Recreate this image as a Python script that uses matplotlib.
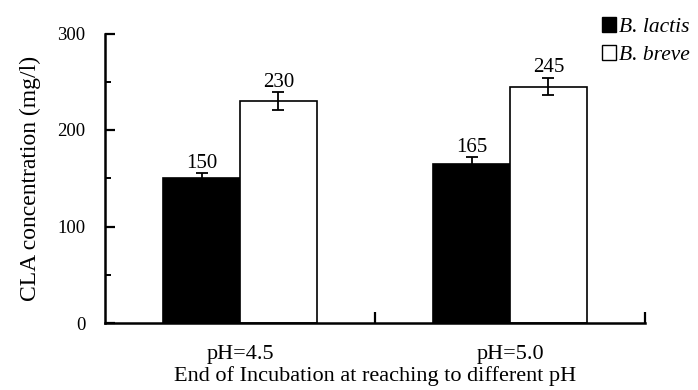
import matplotlib
matplotlib.use("Agg")
import matplotlib.pyplot as plt
import numpy as np
from matplotlib.patches import Rectangle
from matplotlib.ticker import FixedLocator, MultipleLocator

# CLA yield for the two strains at the end of incubation
categories = ["pH=4.5", "pH=5.0"]
lactis = [150, 165]
breve = [230, 245]
lactis_err = [5, 7]
breve_err = [9, 9]

plt.rcParams["font.family"] = ["Liberation Serif", "DejaVu Serif"]
plt.rcParams["font.size"] = 13.5

fig = plt.figure(figsize=(6.98, 3.90), dpi=100)
ax = fig.add_axes([105 / 698, 1 - 323 / 390, 540 / 698, 289.5 / 390])

x = np.arange(len(categories))
w = 0.285
ekw = dict(ecolor="black", elinewidth=1.3, capsize=4.3, capthick=1.3)

ax.bar(x - w / 2, lactis, w, color="black", edgecolor="black", linewidth=1.2,
       yerr=lactis_err, error_kw=ekw, label="B. lactis", zorder=2)
ax.bar(x + w / 2, breve, w, color="white", edgecolor="black", linewidth=1.2,
       yerr=breve_err, error_kw=ekw, label="B. breve", zorder=2)

for xi, v, e in zip(x - w / 2, lactis, lactis_err):
    ax.text(xi, v + e + 0.5, f"{v}", ha="center", va="bottom", fontsize=15)
for xi, v, e in zip(x + w / 2, breve, breve_err):
    ax.text(xi, v + e + 0.5, f"{v}", ha="center", va="bottom", fontsize=15)

ax.set_xlim(-0.5, len(categories) - 0.5)
ax.set_ylim(0, 300)

# category separators as inward ticks, labels sit on minor ticks
ax.xaxis.set_major_locator(FixedLocator(x + 0.5))
ax.xaxis.set_minor_locator(FixedLocator(x))
ax.set_xticklabels([], minor=False)
ax.set_xticklabels(categories, minor=True)
ax.tick_params(axis="x", which="major", direction="in", length=8, width=1.6)
ax.tick_params(axis="x", which="minor", length=0, pad=16, labelsize=16)

ax.yaxis.set_major_locator(MultipleLocator(100))
ax.yaxis.set_minor_locator(MultipleLocator(50))
ax.tick_params(axis="y", which="major", direction="in", length=7, width=1.6, pad=14)
ax.tick_params(axis="y", which="minor", direction="in", length=4, width=1.4)

for s in ("top", "right"):
    ax.spines[s].set_visible(False)
for s in ("left", "bottom"):
    ax.spines[s].set_linewidth(1.8)

ax.set_xlabel("End of Incubation at reaching to different pH", labelpad=1, fontsize=16)
ax.set_ylabel("CLA concentration (mg/l)", labelpad=12, fontsize=17)

handles = [Rectangle((0, 0), 1, 1, facecolor="black", edgecolor="black"),
           Rectangle((0, 0), 1, 1, facecolor="white", edgecolor="black")]
fig.legend(handles, ["B. lactis", "B. breve"], loc="upper left",
           bbox_to_anchor=(602 / 698, 1 - 17 / 390), frameon=False,
           borderaxespad=0, borderpad=0, handlelength=0.67, handleheight=0.67,
           handletextpad=0.1, labelspacing=0.38,
           prop={"style": "italic", "size": 15.5})

fig.savefig("out.png", dpi=100)
